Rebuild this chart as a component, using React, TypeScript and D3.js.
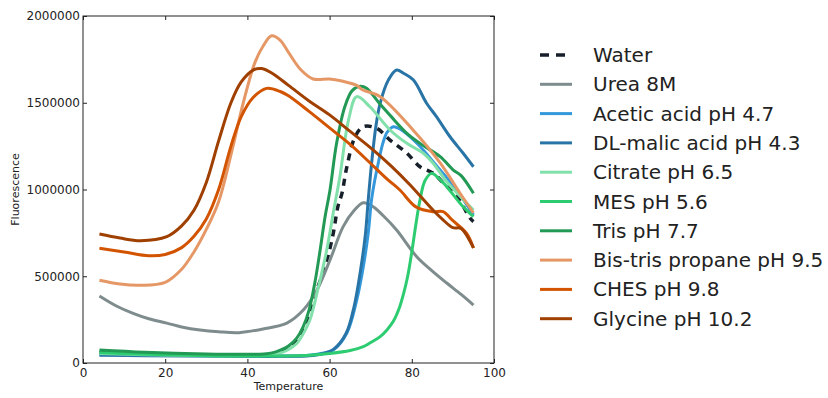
import { useRef, useEffect } from 'react';
import * as d3 from 'd3';

// temperature / fluorescence readings per buffer
const waterT = [4, 10, 20, 30, 40, 45, 48, 50, 52, 53.6, 55, 56, 58.9, 60.9, 62, 63, 64.2, 66.2, 68.2, 71.5, 74.7, 78.8, 82, 85.2, 88, 91.3, 94.2, 95];
const waterF = [60e3, 55e3, 50e3, 47e3, 45e3, 48e3, 68e3, 92e3, 130e3, 180e3, 265e3, 363e3, 555e3, 749e3, 900e3, 978e3, 1131e3, 1304e3, 1362e3, 1352e3, 1285e3, 1209e3, 1131e3, 1093e3, 1030e3, 950e3, 834e3, 815e3];

const ureaT = [4, 8, 12.2, 16, 20.4, 24, 28.5, 33, 38, 43.8, 49.6, 53.6, 56.9, 60.1, 63.3, 66, 68.2, 70.6, 73, 76.3, 81.2, 85, 88.5, 92, 95];
const ureaF = [386e3, 330e3, 286e3, 255e3, 230e3, 208e3, 190e3, 180e3, 175e3, 196e3, 230e3, 305e3, 420e3, 594e3, 786e3, 880e3, 924e3, 901e3, 850e3, 767e3, 613e3, 530e3, 461e3, 395e3, 334e3];

const aceticT = [4, 15, 30, 45, 55, 58, 60.9, 64.2, 66.6, 68.2, 69.4, 70.2, 71, 72, 73, 74, 75.5, 77, 81.2, 86.9, 90.9, 95];
const aceticF = [50e3, 45e3, 42e3, 40e3, 45e3, 55e3, 75e3, 173e3, 363e3, 555e3, 749e3, 940e3, 1055e3, 1170e3, 1270e3, 1330e3, 1362e3, 1350e3, 1268e3, 1112e3, 997e3, 853e3];

const malicT = [4, 15, 30, 45, 55, 58, 61, 64, 66, 67.5, 68.7, 69.4, 70.3, 71.3, 72.3, 74.3, 76.3, 78, 80.4, 83.6, 86, 89.3, 92.5, 95];
const malicF = [45e3, 42e3, 40e3, 38e3, 42e3, 52e3, 80e3, 170e3, 330e3, 530e3, 740e3, 940e3, 1170e3, 1370e3, 1497e3, 1631e3, 1689e3, 1670e3, 1631e3, 1497e3, 1420e3, 1304e3, 1209e3, 1131e3];

const citrateT = [4, 15, 30, 40, 45, 48, 50, 52, 53.5, 55.2, 57.3, 59.3, 61, 62.5, 64.6, 66.6, 69.8, 74.7, 78.8, 82.8, 85.2, 88, 91, 95];
const citrateF = [55e3, 48e3, 43e3, 42e3, 45e3, 58e3, 78e3, 112e3, 165e3, 248e3, 440e3, 651e3, 880e3, 1074e3, 1400e3, 1535e3, 1477e3, 1343e3, 1266e3, 1209e3, 1151e3, 1060e3, 980e3, 882e3];

const mesT = [4, 15, 30, 45, 55, 60, 65, 68.2, 70, 72.3, 74, 75.5, 77, 78, 79, 80, 81, 82, 83.2, 84.8, 86.5, 88.5, 92.5, 95];
const mesF = [60e3, 50e3, 42e3, 40e3, 45e3, 55e3, 72e3, 94e3, 118e3, 152e3, 192e3, 240e3, 320e3, 400e3, 500e3, 640e3, 800e3, 940e3, 1050e3, 1093e3, 1065e3, 1016e3, 900e3, 843e3];

const trisT = [4, 15, 30, 40, 44, 46.3, 48, 50, 52, 53.5, 55, 56.4, 57.7, 58.9, 60.1, 61.7, 63.7, 65.5, 67.5, 69, 72, 75, 78.8, 82, 86.9, 90.1, 92, 95];
const trisF = [75e3, 62e3, 52e3, 50e3, 52e3, 60e3, 74e3, 98e3, 143e3, 205e3, 305e3, 461e3, 651e3, 843e3, 997e3, 1266e3, 1477e3, 1570e3, 1595e3, 1583e3, 1500e3, 1420e3, 1324e3, 1266e3, 1189e3, 1112e3, 1080e3, 978e3];

const bistrisT = [4, 9, 14, 20, 24, 27, 30, 33, 36, 39, 41.8, 43.9, 45.9, 48, 50, 53, 56, 60, 63, 66.6, 68, 72.3, 80.3, 86.9, 91.7, 95];
const bistrisF = [477e3, 455e3, 448e3, 465e3, 540e3, 640e3, 770e3, 930e3, 1200e3, 1500e3, 1730e3, 1830e3, 1886e3, 1860e3, 1790e3, 1690e3, 1637e3, 1637e3, 1625e3, 1600e3, 1575e3, 1535e3, 1343e3, 1153e3, 980e3, 865e3];

const chesT = [4, 10, 16, 20, 24, 27, 30, 33, 36, 38.5, 41.4, 44.7, 48, 50, 55, 60, 65, 70, 74, 77.1, 81, 85.2, 87.6, 90, 93.3, 95];
const chesF = [661e3, 640e3, 618e3, 625e3, 665e3, 730e3, 830e3, 1000e3, 1250e3, 1420e3, 1530e3, 1583e3, 1565e3, 1540e3, 1450e3, 1355e3, 1260e3, 1150e3, 1060e3, 997e3, 900e3, 872e3, 872e3, 820e3, 748e3, 663e3];

const glycineT = [4, 9, 14, 20.4, 24, 27, 30, 33, 36, 38.5, 41.5, 43.5, 46, 50, 55, 60, 65, 70, 75, 79.6, 85.2, 87.6, 90, 92, 95];
const glycineF = [743e3, 720e3, 705e3, 728e3, 790e3, 880e3, 1040e3, 1280e3, 1500e3, 1620e3, 1690e3, 1697e3, 1670e3, 1600e3, 1510e3, 1430e3, 1335e3, 1240e3, 1135e3, 1026e3, 880e3, 825e3, 780e3, 775e3, 663e3];

const labels = ['Water', 'Urea 8M', 'Acetic acid pH 4.7', 'DL-malic acid pH 4.3', 'Citrate pH 6.5', 'MES pH 5.6', 'Tris pH 7.7', 'Bis-tris propane pH 9.5', 'CHES pH 9.8', 'Glycine pH 10.2'];
const colors = ['#17202a', '#7f8c8d', '#3498db', '#2874a6', '#82e0aa', '#2ecc71', '#229954', '#e59866', '#d35400', '#a04000'];
const xTicks = [0, 20, 40, 60, 80, 100];
const yTicks = [0, 500000, 1000000, 1500000, 2000000];

const seriesT = [waterT, ureaT, aceticT, malicT, citrateT, mesT, trisT, bistrisT, chesT, glycineT];
const seriesF = [waterF, ureaF, aceticF, malicF, citrateF, mesF, trisF, bistrisF, chesF, glycineF];

export default function App() {
  const svgRef = useRef(null);

  useEffect(() => {
    const width = 828;
    const height = 398;
    const margin = { top: 16, right: 334, bottom: 35, left: 83 };
    const font = '"DejaVu Sans", sans-serif';

    const svg = d3.select(svgRef.current);
    svg.selectAll('*').remove();

    const x = d3.scaleLinear().domain([0, 100]).range([margin.left, width - margin.right]);
    const y = d3.scaleLinear().domain([0, 2000000]).range([height - margin.bottom, margin.top]);

    const line = d3.line()
      .x(d => x(d[0]))
      .y(d => y(d[1]))
      .curve(d3.curveCatmullRom.alpha(0.5));

    const g = svg.append('g');
    seriesT.forEach((ts, i) => {
      const pts = ts.map((t, j) => [t, seriesF[i][j]]);
      g.append('path')
        .attr('d', line(pts))
        .attr('fill', 'none')
        .attr('stroke', colors[i])
        .attr('stroke-width', i === 0 ? 3.5 : 3)
        .attr('stroke-dasharray', i === 0 ? '7,6' : null)
        .attr('stroke-linejoin', 'round');
    });

    // axes, ticks point inward
    const bottom = svg.append('g')
      .attr('transform', `translate(0,${height - margin.bottom})`)
      .call(d3.axisBottom(x).tickValues(xTicks).tickSize(-4).tickPadding(5));
    const left = svg.append('g')
      .attr('transform', `translate(${margin.left},0)`)
      .call(d3.axisLeft(y).tickValues(yTicks).tickFormat(d3.format('d')).tickSize(-4).tickPadding(3));
    const top = svg.append('g')
      .attr('transform', `translate(0,${margin.top})`)
      .call(d3.axisTop(x).tickValues(xTicks).tickSize(-4).tickFormat(() => ''));
    const right = svg.append('g')
      .attr('transform', `translate(${width - margin.right},0)`)
      .call(d3.axisRight(y).tickValues(yTicks).tickSize(-4).tickFormat(() => ''));

    [bottom, left, top, right].forEach(a => {
      a.select('.domain').remove();
      a.selectAll('line').attr('stroke', '#222');
      a.selectAll('text').attr('fill', '#222').style('font-family', font).style('font-size', '12px');
    });

    svg.append('rect')
      .attr('x', margin.left)
      .attr('y', margin.top)
      .attr('width', width - margin.right - margin.left)
      .attr('height', height - margin.bottom - margin.top)
      .attr('fill', 'none')
      .attr('stroke', '#222')
      .attr('stroke-width', 1);

    svg.append('text')
      .attr('x', (margin.left + width - margin.right) / 2)
      .attr('y', 390)
      .attr('text-anchor', 'middle')
      .attr('fill', '#222')
      .style('font-family', font)
      .style('font-size', '11px')
      .text('Temperature');

    svg.append('text')
      .attr('transform', `translate(19,${(margin.top + height - margin.bottom) / 2}) rotate(-90)`)
      .attr('text-anchor', 'middle')
      .attr('fill', '#222')
      .style('font-family', font)
      .style('font-size', '11px')
      .text('Fluorescence');

    // legend
    const legend = svg.append('g');
    labels.forEach((lab, i) => {
      const ly = 55 + i * 29.3;
      legend.append('line')
        .attr('x1', 540).attr('x2', 572)
        .attr('y1', ly).attr('y2', ly)
        .attr('stroke', colors[i])
        .attr('stroke-width', i === 0 ? 3.5 : 3)
        .attr('stroke-dasharray', i === 0 ? '9,7' : null);
      legend.append('text')
        .attr('x', 593)
        .attr('y', ly)
        .attr('dy', '0.35em')
        .attr('fill', '#222')
        .style('font-family', font)
        .style('font-size', '20px')
        .text(lab);
    });
  }, []);

  return (
    <svg
      ref={svgRef}
      width={828}
      height={398}
      style={{ position: 'absolute', left: 0, top: 0, background: '#fff' }}
    />
  );
}
